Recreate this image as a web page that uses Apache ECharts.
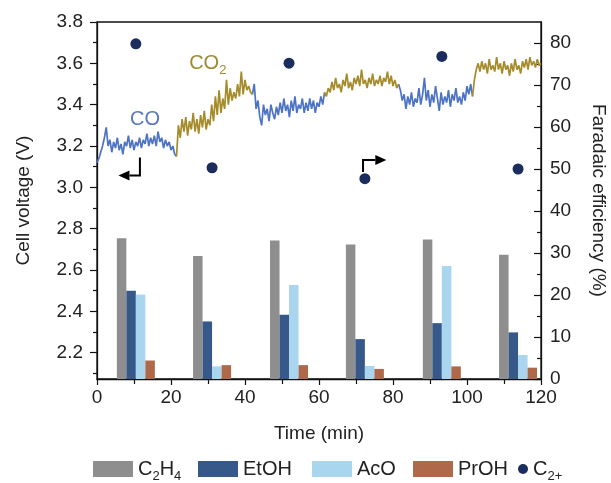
<!DOCTYPE html>
<html><head><meta charset="utf-8">
<script src="https://cdn.jsdelivr.net/npm/echarts@6/dist/echarts.min.js"></script>
<style>html,body{margin:0;padding:0;background:#fff}#c{width:611px;height:483px}</style>
</head><body><div id="c"></div>
<script>
// ---- voltage trace (V), sampled every 0.5 min ----
const STEP = 0.5;
const seg1Start = 0;    // CO
const seg1V = [3.12,3.14,3.17,3.20,3.24,3.29,3.20,3.23,3.17,3.22,3.19,3.24,3.18,3.21,3.16,3.22,3.20,3.25,3.19,3.23,3.18,3.22,3.20,3.24,3.19,3.23,3.21,3.26,3.20,3.24,3.21,3.25,3.20,3.27,3.22,3.24,3.19,3.23,3.20,3.22,3.18,3.20,3.16,3.15];
const seg2Start = 22;   // CO2
const seg2V = [3.30,3.24,3.33,3.27,3.34,3.25,3.32,3.28,3.36,3.27,3.33,3.26,3.35,3.29,3.37,3.28,3.33,3.30,3.40,3.32,3.44,3.35,3.47,3.36,3.43,3.38,3.52,3.40,3.48,3.42,3.46,3.43,3.50,3.44,3.56,3.45,3.52,3.47,3.49,3.46,3.45];
const seg3Start = 42.5; // CO
const seg3V = [3.50,3.38,3.42,3.34,3.30,3.40,3.35,3.38,3.32,3.40,3.36,3.33,3.39,3.35,3.41,3.36,3.43,3.37,3.40,3.34,3.42,3.37,3.44,3.36,3.40,3.38,3.43,3.36,3.41,3.37,3.43,3.38,3.42,3.36,3.41,3.39,3.44,3.40,3.46];
const seg4Start = 62;   // CO2
const seg4V = [3.44,3.48,3.46,3.51,3.47,3.53,3.48,3.50,3.46,3.52,3.49,3.55,3.48,3.51,3.47,3.53,3.50,3.54,3.49,3.57,3.50,3.52,3.48,3.53,3.50,3.55,3.49,3.52,3.50,3.54,3.49,3.53,3.51,3.56,3.50,3.54,3.49,3.52,3.48,3.50];
const seg5Start = 82;   // CO
const seg5V = [3.47,3.42,3.45,3.38,3.44,3.40,3.46,3.39,3.43,3.41,3.48,3.40,3.45,3.53,3.42,3.47,3.39,3.45,3.41,3.49,3.43,3.37,3.46,3.40,3.44,3.41,3.47,3.39,3.45,3.42,3.48,3.41,3.44,3.40,3.46,3.42,3.49,3.45,3.50,3.44];
const seg6Start = 102;  // CO2
const seg6V = [3.52,3.57,3.60,3.56,3.61,3.57,3.60,3.55,3.62,3.57,3.59,3.56,3.63,3.57,3.60,3.55,3.61,3.57,3.59,3.54,3.60,3.56,3.62,3.57,3.59,3.55,3.61,3.58,3.62,3.57,3.63,3.59,3.61,3.58,3.62,3.59,3.60];

// ---- Faradaic efficiencies (%) ----
const barTimes = [10.5, 31.1, 51.9, 72.4, 93.2, 113.8];
const c2h4 = [33.5, 29.3, 33.0, 32.0, 33.2, 29.6];
const etoh = [21.0, 13.7, 15.3, 9.5, 13.3, 11.1];
const aco  = [20.1, 3.0, 22.4, 3.1, 26.9, 5.7];
const proh = [4.4, 3.3, 3.3, 2.4, 3.0, 2.7];
const c2plus = [79.8, 50.3, 75.2, 47.7, 76.8, 50.0];

// ---- ticks ----
const leftTicks = [2.2, 2.4, 2.6, 2.8, 3.0, 3.2, 3.4, 3.6, 3.8];
const leftMinor = [2.1, 2.3, 2.5, 2.7, 2.9, 3.1, 3.3, 3.5, 3.7];
const rightTicks = [0, 10, 20, 30, 40, 50, 60, 70, 80];
const rightMinor = [5, 15, 25, 35, 45, 55, 65, 75];

const FONT = 'Liberation Sans, Arial, Helvetica, sans-serif';
const BLUE = '#4d74c4', GOLD = '#a68b2b';

function seg(start, vals) { return vals.map((v, i) => [start + i * STEP, v]); }
const s1 = seg(seg1Start, seg1V), s2 = seg(seg2Start, seg2V), s3 = seg(seg3Start, seg3V),
      s4 = seg(seg4Start, seg4V), s5 = seg(seg5Start, seg5V), s6 = seg(seg6Start, seg6V);
const last = a => a[a.length - 1];
const blueData = [...s1, [null, null], last(s2), ...s3, [null, null], last(s4), ...s5];
const goldData = [last(s1), ...s2, [null, null], last(s3), ...s4, [null, null], last(s5), ...s6];

const pair = arr => arr.map((v, i) => [barTimes[i], v]);

const richSub = {
  n: { fontSize: 20, fontFamily: FONT, color: '#222' },
  s: { fontSize: 13, fontFamily: FONT, color: '#222', padding: [14, 0, 0, 0] }
};
const nameFmt = {
  'C2H4': '{n|C}{s|2}{n|H}{s|4}',
  'EtOH': '{n|EtOH}',
  'AcO': '{n|AcO}',
  'PrOH': '{n|PrOH}',
  'C2+': '{n|C}{s|2+}'
};
function legendAt(name, left, icon, w, h) {
  return {
    data: [{ name: name, icon: icon }], left: left, top: 459, itemWidth: w, itemHeight: h,
    itemGap: 0, padding: 0, formatter: n => nameFmt[n],
    textStyle: { fontFamily: FONT, fontSize: 20, color: '#222', rich: richSub }
  };
}

const chart = echarts.init(document.getElementById('c'), null, { renderer: 'canvas' });
const axisLineStyle = { color: '#111', width: 1.3 };
chart.setOption({
  animation: false,
  backgroundColor: '#fff',
  grid: { left: 97, right: 70, top: 22, bottom: 104, show: true, borderColor: '#111', borderWidth: 1.3, backgroundColor: 'transparent',
          containLabel: false, outerBoundsMode: 'none' },
  legend: [
    legendAt('C2H4', 93, 'rect', 40, 16),
    legendAt('EtOH', 198, 'rect', 40, 16),
    legendAt('AcO', 312, 'rect', 40, 16),
    legendAt('PrOH', 413, 'rect', 40, 16),
    legendAt('C2+', 518, 'circle', 10, 10)
  ],
  xAxis: {
    type: 'value', min: 0, max: 120, interval: 20,
    name: 'Time (min)', nameLocation: 'middle', nameGap: 45,
    nameTextStyle: { fontFamily: FONT, fontSize: 19, color: '#222' },
    axisLine: { onZero: false, lineStyle: axisLineStyle },
    axisTick: { show: true, length: 6, lineStyle: { color: '#111', width: 1.2 } },
    minorTick: { show: true, splitNumber: 2, length: 5, lineStyle: { color: '#111', width: 1.2 } },
    axisLabel: { fontFamily: FONT, fontSize: 19, color: '#222', margin: 9 },
    splitLine: { show: false }
  },
  yAxis: [
    {
      type: 'value', position: 'left', min: 2.073, max: 3.8,
      name: 'Cell voltage (V)', nameLocation: 'middle', nameGap: 64, nameRotate: 90,
      nameTextStyle: { fontFamily: FONT, fontSize: 19, color: '#222' },
      axisLine: { show: true, lineStyle: axisLineStyle },
      axisTick: { show: true, length: 7, customValues: leftTicks, lineStyle: { color: '#111', width: 1.2 } },
      axisLabel: { customValues: leftTicks, formatter: v => (+v).toFixed(1), fontFamily: FONT, fontSize: 19, color: '#222', margin: 14 },
      splitLine: { show: false }
    },
    {
      type: 'value', position: 'right', min: 0, max: 85,
      name: 'Faradaic efficiency (%)', nameLocation: 'middle', nameGap: 48, nameRotate: -90,
      nameTextStyle: { fontFamily: FONT, fontSize: 19, color: '#222' },
      axisLine: { show: true, lineStyle: axisLineStyle },
      axisTick: { show: true, inside: true, length: 7, customValues: rightTicks, lineStyle: { color: '#111', width: 1.2 } },
      axisLabel: { customValues: rightTicks, fontFamily: FONT, fontSize: 19, color: '#222', margin: 9 },
      splitLine: { show: false }
    },
    {
      type: 'value', position: 'left', min: 2.073, max: 3.8,
      axisLine: { show: false },
      axisTick: { show: true, length: 4, customValues: leftMinor, lineStyle: { color: '#111', width: 1.2 } },
      axisLabel: { show: false }, splitLine: { show: false }
    },
    {
      type: 'value', position: 'right', min: 0, max: 85,
      axisLine: { show: false },
      axisTick: { show: true, inside: true, length: 4, customValues: rightMinor, lineStyle: { color: '#111', width: 1.2 } },
      axisLabel: { show: false }, splitLine: { show: false }
    }
  ],
  series: [
    { name: 'C2H4', type: 'bar', yAxisIndex: 1, data: pair(c2h4), barWidth: 9.5, barGap: '0%', itemStyle: { color: '#8e8e8e' } },
    { name: 'EtOH', type: 'bar', yAxisIndex: 1, data: pair(etoh), barWidth: 9.5, barGap: '0%', itemStyle: { color: '#37598a' } },
    { name: 'AcO', type: 'bar', yAxisIndex: 1, data: pair(aco), barWidth: 9.5, barGap: '0%', itemStyle: { color: '#a9d5ee' } },
    { name: 'PrOH', type: 'bar', yAxisIndex: 1, data: pair(proh), barWidth: 9.5, barGap: '0%', itemStyle: { color: '#ad6949' } },
    { name: 'CO trace', type: 'line', yAxisIndex: 0, data: blueData, showSymbol: false, connectNulls: false,
      lineStyle: { color: BLUE, width: 1.7 }, itemStyle: { color: BLUE }, z: 3 },
    { name: 'CO2 trace', type: 'line', yAxisIndex: 0, data: goldData, showSymbol: false, connectNulls: false,
      lineStyle: { color: GOLD, width: 1.7 }, itemStyle: { color: GOLD }, z: 3 },
    { name: 'C2+', type: 'scatter', yAxisIndex: 1, data: pair(c2plus), symbolSize: 11, itemStyle: { color: '#1b2d5c', opacity: 1 }, z: 4 }
  ]
});

// ---- annotations in data coordinates (time, voltage) ----
const coLabel = [13, 3.33];
const co2Label = [24.9, 3.60];
const arrowLeft = [[11.6, 3.145], [11.6, 3.058], [5.8, 3.058]];
const arrowRight = [[71.9, 3.074], [71.9, 3.132], [78.2, 3.132]];

const px = p => chart.convertToPixel({ xAxisIndex: 0, yAxisIndex: 0 }, p);
function arrow(pts) {
  const P = pts.map(px);
  const tip = P[2], corner = P[1];
  const dir = Math.sign(tip[0] - corner[0]);
  const base = [tip[0] - dir * 11, tip[1]];
  return [
    { type: 'polyline', shape: { points: [P[0], corner, base] }, style: { stroke: '#000', lineWidth: 2, fill: null }, z: 10 },
    { type: 'polygon', shape: { points: [tip, [base[0], base[1] - 5], [base[0], base[1] + 5]] }, style: { fill: '#000' }, z: 10 }
  ];
}
const co = px(coLabel), co2 = px(co2Label);
chart.setOption({
  graphic: [
    { type: 'text', x: co[0], y: co[1], style: { text: 'CO', fill: '#5a78c2', font: '20px ' + FONT, align: 'center', verticalAlign: 'middle' }, z: 10 },
    { type: 'text', x: co2[0], y: co2[1], style: { text: '{n|CO}{s|2}', align: 'left', verticalAlign: 'middle',
        rich: { n: { fontSize: 20, fontFamily: FONT, fill: '#a08a30' }, s: { fontSize: 13, fontFamily: FONT, fill: '#a08a30', padding: [14, 0, 0, 0] } } }, z: 10 },
    ...arrow(arrowLeft),
    ...arrow(arrowRight)
  ]
});
</script></body></html>
